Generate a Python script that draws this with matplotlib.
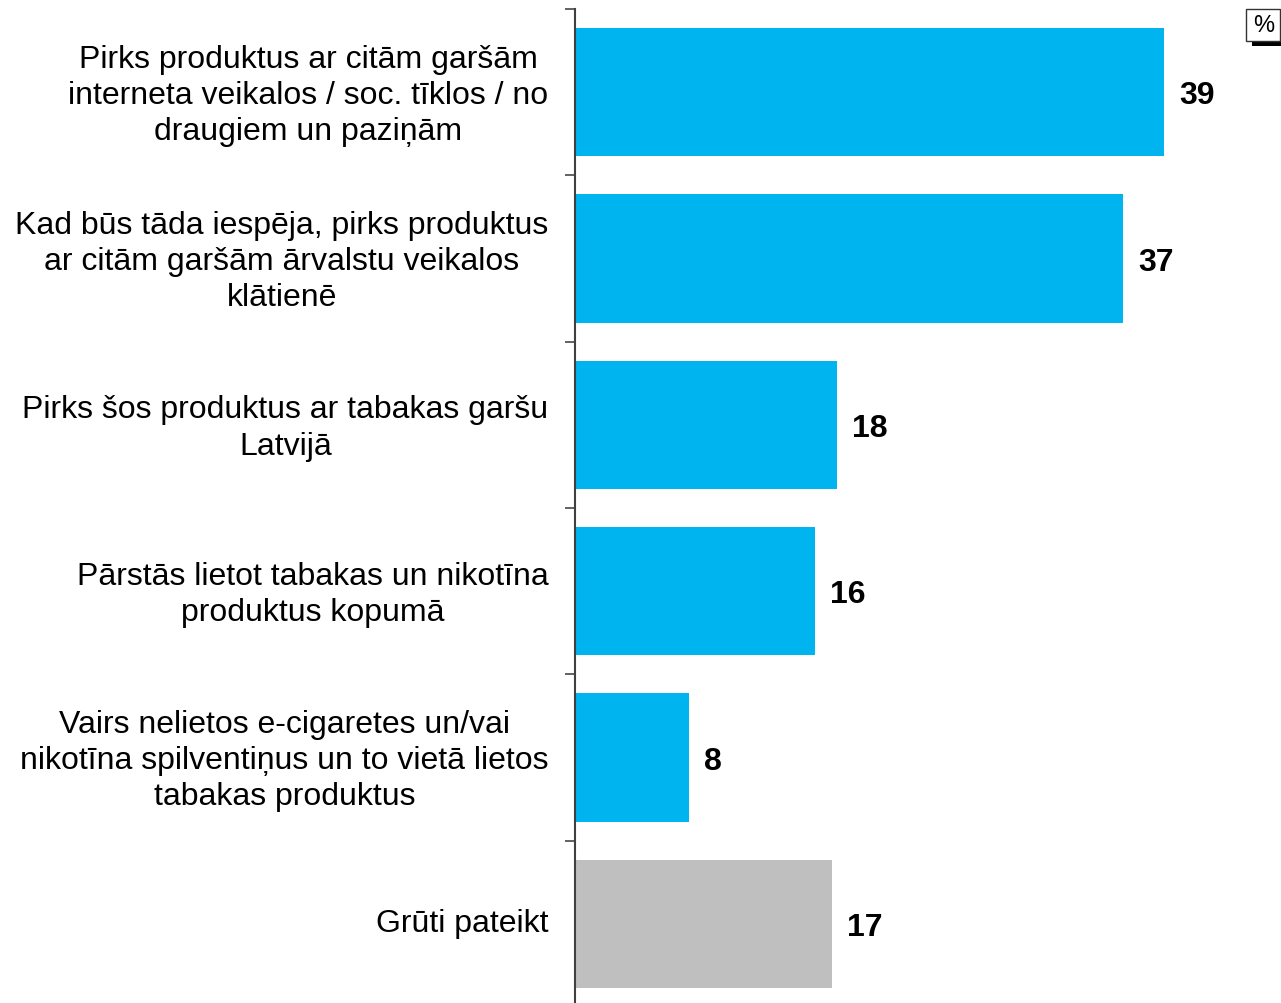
import numpy as np
import matplotlib.pyplot as plt
from matplotlib.patches import Rectangle
from matplotlib.transforms import ScaledTranslation

plt.rcParams['font.family'] = ['Liberation Sans', 'DejaVu Sans']

kategorijas = [
    "Pirks produktus ar citām garšām\ninterneta veikalos / soc. tīklos / no\ndraugiem un paziņām",
    "Kad būs tāda iespēja, pirks produktus\nar citām garšām ārvalstu veikalos\nklātienē",
    "Pirks šos produktus ar tabakas garšu\nLatvijā",
    "Pārstās lietot tabakas un nikotīna\nproduktus kopumā",
    "Vairs nelietos e-cigaretes un/vai\nnikotīna spilventiņus un to vietā lietos\ntabakas produktus",
    "Grūti pateikt",
]
vertibas = [39.0, 36.3, 17.35, 15.9, 7.55, 17.0]
etiketes = ["39", "37", "18", "16", "8", "17"]
krasas = ["#00B4EF"] * 5 + ["#BFBFBF"]

fig = plt.figure(figsize=(12.81, 10.04), dpi=100)
ax = fig.add_axes([575 / 1281, -4 / 1004, 1 - 575 / 1281, 998 / 1004])

y = np.arange(len(kategorijas))
ax.barh(y, vertibas, height=0.77, color=krasas, zorder=2)
ax.set_xlim(0, 706 / 15.1)
ax.set_ylim(len(kategorijas) - 0.5, -0.5)

for yi, v, lab in zip(y, vertibas, etiketes):
    ax.text(v + 1.0, yi + 0.02, lab, va='center', ha='left', fontsize=23, fontweight='bold')

ax.set_yticks(y)
ax.set_yticklabels(kategorijas, fontsize=23, multialignment='center', linespacing=1.27)
ax.tick_params(axis='y', which='major', length=0, pad=19)
nobide = ScaledTranslation(0, 4 / 100, fig.dpi_scale_trans)
for t in ax.get_yticklabels():
    t.set_transform(t.get_transform() + nobide)
ax.set_yticks(np.arange(-0.5, len(kategorijas) + 0.5, 1), minor=True)
ax.tick_params(axis='y', which='minor', length=7, width=1.3, color='#555555')
ax.set_xticks([])

for s in ['top', 'right', 'bottom']:
    ax.spines[s].set_visible(False)
ax.spines['left'].set_color('#404040')
ax.spines['left'].set_linewidth(1.5)

# % lodziņš augšējā labajā stūrī
W, H = 1281, 1004
fig.patches.append(Rectangle((1252 / W, 1 - 47 / H), 40 / W, 32 / H,
                             transform=fig.transFigure, facecolor='black', edgecolor='none'))
fig.patches.append(Rectangle((1246 / W, 1 - 42 / H), 34 / W, 32 / H,
                             transform=fig.transFigure, facecolor='white', edgecolor='#333333', linewidth=1))
fig.text(1264 / W, 1 - 26 / H, "%", ha='center', va='center', fontsize=17)

fig.savefig("out.png", dpi=100)
